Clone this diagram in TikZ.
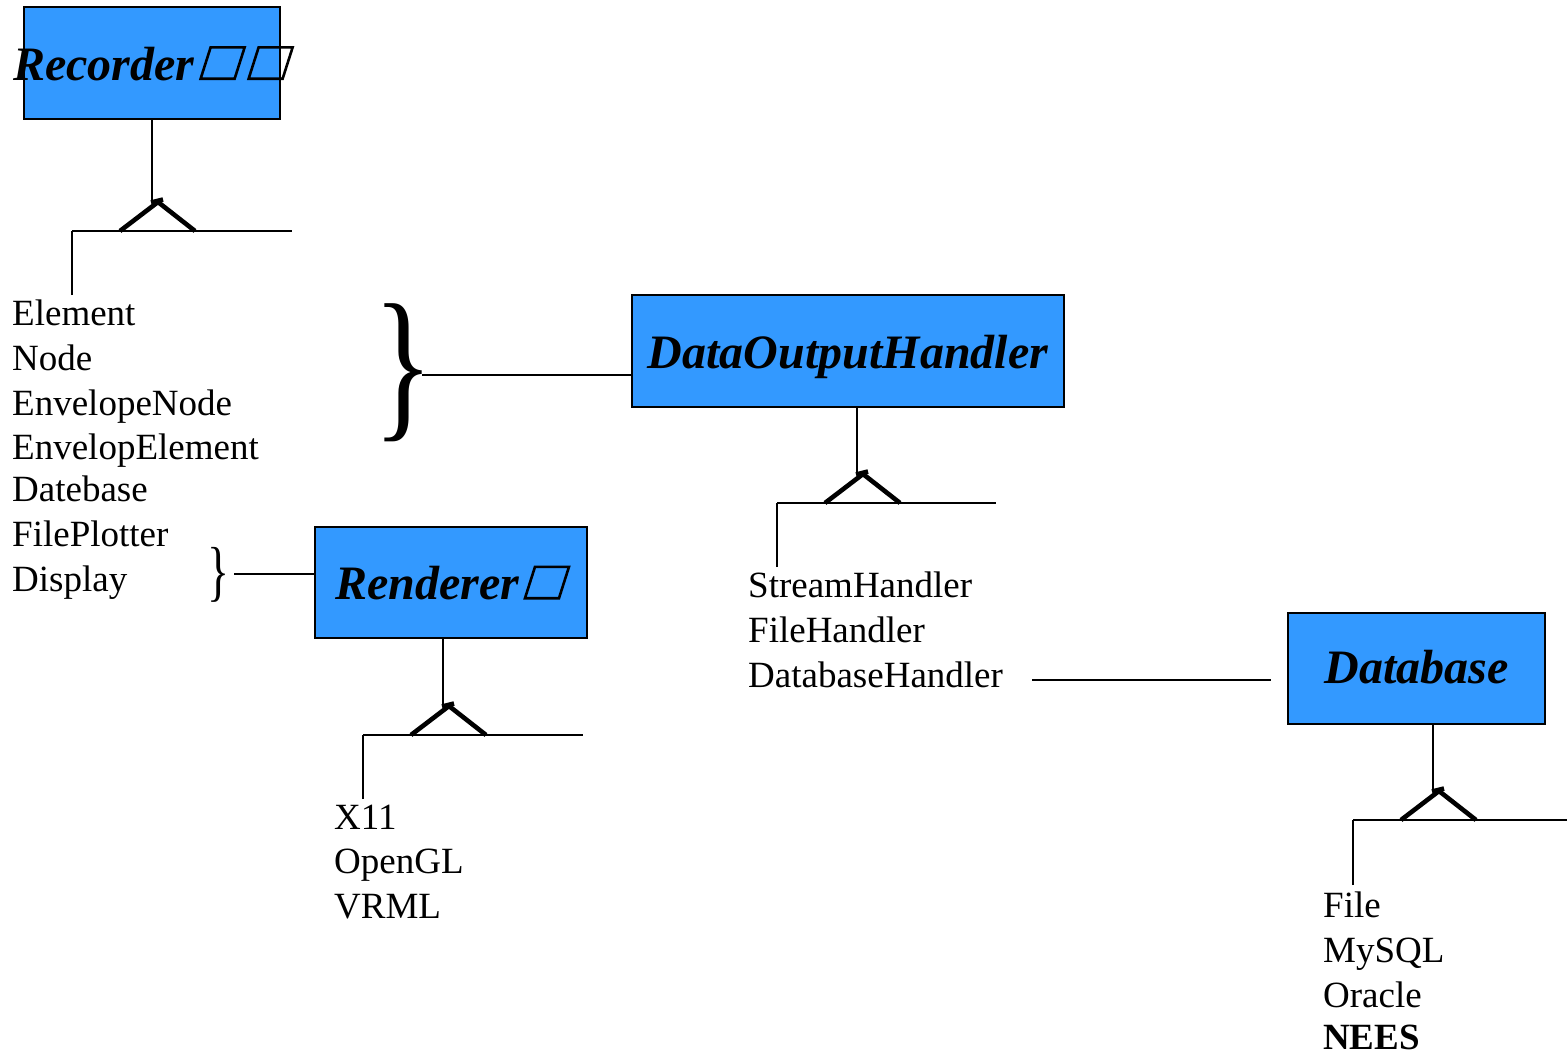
\documentclass[tikz,border=0pt]{standalone}
\usepackage{fontspec}
\setmainfont{Liberation Serif}
\usepackage{graphicx}
\usetikzlibrary{calc}

\definecolor{clsblue}{RGB}{51,153,255}

% an empty slanted glyph box, as printed after some class names
\newcommand\emptyglyph{\tikz[baseline=0pt,x=1pt,y=1pt]{%
  \useasboundingbox (0,0) rectangle (48,34);
  \draw[line width=2.6pt,line join=miter] (6,1.3) -- (40,1.3) -- (50,32.7) -- (16,32.7) -- cycle;}}

\tikzset{
  cls/.style={draw=black, line width=1.4pt, fill=clsblue, inner sep=0pt,
    text height=34pt, text depth=0pt,
    font=\fontsize{48}{52}\selectfont\bfseries\itshape},
  lbl/.style={anchor=base west, inner sep=0pt, font=\fontsize{37}{40}\selectfont},
  wire/.style={line width=1.4pt},
  fork/.style={line width=4.6pt, line join=miter},
}

% generalization fork below a class: #1 class node, #2 base point, #3 right end
\newcommand\genmark[3]{%
  \draw[wire] (#1.south -| #2) -- ($(#2)+(0,-31)$);
  \draw[fork] ($(#2)+(-32,0)$) -- ($(#2)+(6,-29)$) -- ($(#2)+(43,0)$);
  \draw[fork] ($(#2)+(-1,-28.5)$) -- ($(#2)+(11,-31.5)$);
  \draw[wire] ($(#2)+(-80,0)$) -- ($(#2)+(#3,0)$);
}

\begin{document}
\begin{tikzpicture}[x=1pt,y=-1pt]
\useasboundingbox (0,0) rectangle (1567,1052);

% classes
\node[cls, minimum width=256pt, minimum height=112pt] (rec) at (152,63)
  {\makebox[0pt]{Recorder\emptyglyph\emptyglyph}};
\node[cls, minimum width=432pt, minimum height=112pt] (doh) at (848,351)
  {\makebox[0pt]{DataOutputHandler}};
\node[cls, minimum width=272pt, minimum height=111pt] (ren) at (451,582.5)
  {\makebox[0pt]{Renderer\emptyglyph}};
\node[cls, minimum width=257pt, minimum height=111pt] (db) at (1416.5,668.5)
  {\makebox[0pt]{\raisebox{2.5pt}{Database}}};

% recorder kinds
\node[lbl] (element) at (12,325) {Element};
\node[lbl] (node)    at (12,370) {Node};
\node[lbl] (envnode) at (12,415) {EnvelopeNode};
\node[lbl] (envelem) at (12,459) {EnvelopElement};
\node[lbl] (dateb)   at (12,501) {Datebase};
\node[lbl] (fplot)   at (12,546) {FilePlotter};
\node[lbl] (disp)    at (12,591) {Display};

% output handler kinds
\node[lbl] (stream) at (748,597) {StreamHandler};
\node[lbl] (fileh)  at (748,642) {FileHandler};
\node[lbl] (dbh)    at (748,687) {DatabaseHandler};

% renderer kinds
\node[lbl] (x11)   at (334,829) {X11};
\node[lbl] (ogl)   at (334,873) {OpenGL};
\node[lbl] (vrml)  at (334,918) {VRML};

% database kinds
\node[lbl] (file)   at (1323,917)  {File};
\node[lbl] (mysql)  at (1323,962)  {MySQL};
\node[lbl] (oracle) at (1323,1007) {Oracle};
\node[lbl] (nees)   at (1323,1049) {\bfseries NEES};

% braces grouping the recorder kinds
\node[inner sep=0pt] (bigbrace) at (404,373)
  {\resizebox*{60pt}{138pt}{\}}};
\node[inner sep=0pt] (smallbrace) at (219,574.5)
  {\resizebox*{22pt}{55pt}{\}}};

% fork base points
\coordinate (recv) at (152,231);
\coordinate (dohv) at (857,503);
\coordinate (renv) at (443,735);
\coordinate (dbv)  at (1433,820);

\genmark{rec}{recv}{140}
\genmark{doh}{dohv}{139}
\genmark{ren}{renv}{140}
\genmark{db}{dbv}{140}

% legs down to the kind lists
\coordinate (recleg) at (72,295);
\coordinate (dohleg) at (777,567);
\coordinate (renleg) at (363,799);
\coordinate (dbleg)  at (1353,885);
\draw[wire] (recleg) -- (recleg |- recv);
\draw[wire] (dohleg) -- (dohleg |- dohv);
\draw[wire] (renleg) -- (renleg |- renv);
\draw[wire] (dbleg)  -- (dbleg |- dbv);

% associations
\coordinate (bigtip) at (422,375);
\draw[wire] (bigtip) -- (bigtip -| doh.west);
\coordinate (smalltip) at (234,574);
\draw[wire] (smalltip) -- (smalltip -| ren.west);
\coordinate (dbhline) at (1032,680);
\draw[wire] (dbhline) -- ($(dbhline -| db.west)+(-16,0)$);
\end{tikzpicture}
\end{document}
